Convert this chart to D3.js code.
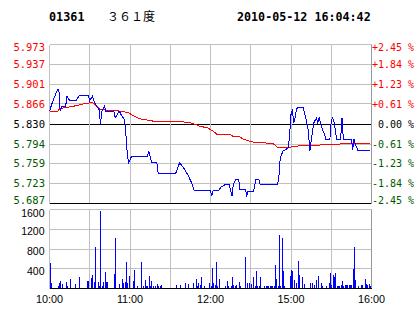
<!DOCTYPE html>
<html>
<head>
    <meta charset="utf-8">
    <title>01361 intraday</title>
    <script src="https://d3js.org/d3.v7.min.js"></script>
    <style>
        body { margin: 0; background: #fff; }
        svg { display: block; }
    </style>
</head>
<body>
<div id="chart"></div>
<script>
    // minutes after 10:00, lunch break taken out (12:30 = 14:30 = 150)
    var priceTimes = [0, 2, 6, 7, 8, 9, 12, 13, 15, 20, 22, 29, 30, 32, 33, 35, 37, 38, 39, 41,
        42, 48, 49, 52, 54, 56, 57, 58, 59, 61, 73, 74, 75, 76, 80, 81, 94, 97, 100, 103,
        106, 108, 120, 121, 122, 126, 128, 131, 134, 136, 137, 139, 141, 142, 146, 147, 148, 152, 154, 156,
        157, 170, 171, 172, 174, 176, 178, 179, 180, 181, 182, 183, 184, 185, 189, 191, 193, 194, 195, 197,
        199, 200, 201, 203, 205, 206, 209, 210, 211, 212, 214, 217, 218, 219, 225, 226, 227, 228, 230, 239];
    var priceValues = [5.853, 5.868, 5.892, 5.892, 5.853, 5.861, 5.861, 5.880, 5.872, 5.872, 5.881, 5.881, 5.872, 5.880, 5.872, 5.862, 5.856, 5.830, 5.853, 5.862,
        5.853, 5.853, 5.841, 5.853, 5.844, 5.838, 5.810, 5.775, 5.760, 5.771, 5.771, 5.782, 5.772, 5.761, 5.760, 5.741, 5.741, 5.760, 5.751, 5.739,
        5.724, 5.710, 5.710, 5.701, 5.710, 5.710, 5.717, 5.721, 5.721, 5.700, 5.721, 5.731, 5.731, 5.712, 5.712, 5.701, 5.709, 5.709, 5.731, 5.731,
        5.721, 5.721, 5.736, 5.769, 5.781, 5.784, 5.787, 5.811, 5.847, 5.856, 5.832, 5.841, 5.856, 5.860, 5.860, 5.841, 5.817, 5.781, 5.799, 5.832,
        5.841, 5.832, 5.841, 5.823, 5.811, 5.803, 5.803, 5.835, 5.841, 5.835, 5.803, 5.803, 5.841, 5.803, 5.803, 5.784, 5.803, 5.793, 5.782, 5.782];

    // average price
    var avgTimes = [0, 6, 8, 18, 25, 30, 32, 34, 38, 48, 54, 59, 63, 68, 73, 80, 99, 105, 110, 112,
        118, 122, 125, 135, 137, 142, 144, 149, 153, 161, 167, 170, 177, 183, 188, 210, 223, 239];
    var avgValues = [5.853, 5.853, 5.858, 5.862, 5.866, 5.868, 5.869, 5.865, 5.856, 5.854, 5.853, 5.850, 5.844, 5.839, 5.837, 5.834, 5.834, 5.832, 5.828, 5.826,
        5.823, 5.817, 5.811, 5.811, 5.807, 5.807, 5.803, 5.799, 5.797, 5.796, 5.794, 5.788, 5.787, 5.790, 5.791, 5.793, 5.795, 5.795];

    // volume per minute
    var volTimes = [0, 1, 6, 7, 8, 9, 12, 13, 15, 19, 22, 28, 29, 31, 32, 33, 34, 36, 37, 38,
        39, 40, 41, 42, 43, 48, 49, 52, 54, 55, 56, 57, 58, 59, 62, 63, 65, 68, 70, 71,
        72, 73, 74, 75, 76, 77, 79, 80, 81, 82, 83, 94, 97, 101, 103, 107, 109, 110, 111, 112,
        113, 115, 119, 120, 121, 122, 123, 124, 125, 126, 131, 132, 133, 135, 136, 137, 138, 139, 141, 142,
        146, 147, 149, 150, 152, 153, 154, 155, 156, 157, 160, 161, 162, 163, 164, 165, 166, 167, 168, 169,
        170, 171, 172, 173, 174, 175, 179, 180, 181, 182, 184, 185, 186, 188, 190, 194, 196, 197, 199, 200,
        202, 203, 206, 208, 209, 210, 211, 212, 213, 214, 215, 216, 217, 218, 219, 220, 221, 222, 223, 224,
        225, 226, 227, 228, 230, 232, 233, 235, 236, 237, 238, 239];
    var volValues = [520, 115, 54, 120, 150, 88, 135, 54, 190, 88, 236, 150, 150, 216, 270, 135, 845, 135, 54, 1566,
        54, 135, 338, 135, 135, 290, 1026, 88, 190, 120, 135, 540, 120, 256, 150, 370, 54, 540, 54, 170,
        54, 54, 256, 54, 150, 54, 47, 100, 47, 47, 68, 68, 68, 120, 100, 120, 190, 47, 120, 68,
        230, 47, 120, 54, 420, 120, 80, 540, 47, 200, 47, 150, 47, 47, 236, 80, 47, 80, 128, 47,
        640, 120, 120, 100, 230, 47, 350, 47, 47, 230, 47, 47, 47, 54, 54, 54, 47, 47, 486, 190,
        47, 1080, 47, 1026, 350, 47, 250, 370, 350, 170, 120, 553, 270, 230, 100, 120, 120, 80, 170, 250,
        120, 47, 47, 120, 304, 80, 270, 230, 324, 47, 47, 47, 80, 162, 47, 68, 68, 68, 68, 68,
        68, 405, 837, 170, 47, 68, 68, 190, 88, 68, 95, 54];

    var preClose = 5.830;
    var priceTicks = [5.973, 5.937, 5.901, 5.866, 5.830, 5.794, 5.759, 5.723, 5.687];
    var pctLabels = ["+2.45 %", "+1.84 %", "+1.23 %", "+0.61 %", " 0.00 %", "-0.61 %", "-1.23 %", "-1.84 %", "-2.45 %"];
    var volTicks = [400, 800, 1200, 1600];
    var gridTimes = [30, 60, 90, 120, 150, 180, 210];
    var timeTicks = [0, 60, 120, 180, 240];
    var timeLabels = ["10:00", "11:00", "12:00", "15:00", "16:00"];

    var W = 414, H = 314;
    var left = 49.5, right = 371.5;
    var priceTop = 44.5, priceBottom = 203.5;
    var volTop = 209.5, volBottom = 288.5;

    var RED = "#ff0000", GREEN = "#005a00", GRID = "#c0c0c0", MONO = "DejaVu Sans Mono";

    // snap to the middle of a pixel so 1px lines stay sharp
    function px(v) { return Math.round(v - 0.5) + 0.5; }
    function tone(v) { return v > preClose ? RED : (v < preClose ? GREEN : "#000"); }

    var svg = d3.select("#chart")
        .append("svg")
        .attr("width", W)
        .attr("height", H)
        .style("background", "#fff");

    var x = d3.scaleLinear().domain([0, 240]).range([left, right]);
    var y = d3.scaleLinear().domain([5.687, 5.973]).range([priceBottom, priceTop]);
    var yVol = d3.scaleLinear().domain([0, 1600]).range([volBottom, volTop]);

    // header
    svg.append("text").attr("x", 49).attr("y", 20.5)
        .style("font-family", MONO).style("font-weight", "bold").style("font-size", "11.8px")
        .text("01361");
    svg.append("text").attr("x", 107).attr("y", 20.5)
        .style("font-family", "Noto Sans CJK SC").style("font-size", "12px")
        .text("３６１度");
    svg.append("text").attr("x", 237).attr("y", 20.5)
        .style("font-family", MONO).style("font-weight", "bold").style("font-size", "11.7px")
        .text("2010-05-12 16:04:42");

    var grid = svg.append("g").attr("shape-rendering", "crispEdges");

    // price panel grid
    grid.selectAll(".hgrid")
        .data(priceTicks)
        .enter()
        .append("line")
        .attr("x1", left).attr("x2", right)
        .attr("y1", function(d) { return px(y(d)); })
        .attr("y2", function(d) { return px(y(d)); })
        .attr("stroke", function(d, i) { return (d == preClose || i == priceTicks.length - 1) ? "#000" : GRID; });

    grid.selectAll(".vgrid")
        .data(gridTimes)
        .enter()
        .append("line")
        .attr("x1", function(d) { return px(x(d)); })
        .attr("x2", function(d) { return px(x(d)); })
        .attr("y1", priceTop).attr("y2", priceBottom - 1)
        .attr("stroke", GRID);

    // volume panel grid
    grid.selectAll(".vhgrid")
        .data(volTicks)
        .enter()
        .append("line")
        .attr("x1", left).attr("x2", right)
        .attr("y1", function(d) { return px(yVol(d)); })
        .attr("y2", function(d) { return px(yVol(d)); })
        .attr("stroke", GRID);

    grid.selectAll(".vvgrid")
        .data(gridTimes)
        .enter()
        .append("line")
        .attr("x1", function(d) { return px(x(d)); })
        .attr("x2", function(d) { return px(x(d)); })
        .attr("y1", volTop).attr("y2", volBottom)
        .attr("stroke", GRID);

    // panel sides
    [[priceTop, priceBottom], [volTop, volBottom]].forEach(function(p) {
        grid.append("line").attr("x1", px(left)).attr("x2", px(left))
            .attr("y1", p[0]).attr("y2", p[1]).attr("stroke", GRID);
        grid.append("line").attr("x1", px(right)).attr("x2", px(right))
            .attr("y1", p[0]).attr("y2", p[1]).attr("stroke", "#999");
    });

    // volume bars
    svg.append("g")
        .attr("shape-rendering", "crispEdges")
        .selectAll("rect")
        .data(d3.zip(volTimes, volValues))
        .enter()
        .append("rect")
        .attr("x", function(d) { return Math.round(x(d[0])); })
        .attr("y", function(d) { return Math.round(yVol(d[1])); })
        .attr("width", 1)
        .attr("height", function(d) { return volBottom - 0.5 - Math.round(yVol(d[1])); })
        .attr("fill", "#0000ff");

    grid.append("line").attr("x1", left).attr("x2", right)
        .attr("y1", px(volBottom)).attr("y2", px(volBottom)).attr("stroke", "#000");

    // average and price lines
    var line = d3.line()
        .x(function(d) { return x(d[0]); })
        .y(function(d) { return y(d[1]); });

    svg.append("path")
        .datum(d3.zip(avgTimes, avgValues))
        .attr("d", line)
        .attr("fill", "none")
        .attr("stroke", RED)
        .attr("stroke-width", 1)
        .attr("shape-rendering", "crispEdges");

    svg.append("path")
        .datum(d3.zip(priceTimes, priceValues))
        .attr("d", line)
        .attr("fill", "none")
        .attr("stroke", "#0000ff")
        .attr("stroke-width", 1)
        .attr("shape-rendering", "crispEdges");

    // left price labels, kept inside the panel
    svg.selectAll(".plabel")
        .data(priceTicks)
        .enter()
        .append("text")
        .attr("x", 45)
        .attr("y", function(d) { return Math.min(Math.max(y(d), priceTop + 2.5), priceBottom - 3.5) + 3.8; })
        .attr("text-anchor", "end")
        .style("font-family", MONO).style("font-size", "10.5px")
        .attr("fill", tone)
        .text(function(d) { return d.toFixed(3); });

    // right percent labels
    svg.selectAll(".rlabel")
        .data(priceTicks)
        .enter()
        .append("text")
        .attr("x", 372)
        .attr("y", function(d) { return Math.min(Math.max(y(d), priceTop + 2.5), priceBottom - 3.5) + 3.8; })
        .style("font-family", MONO).style("font-size", "10px")
        .style("white-space", "pre")
        .attr("fill", tone)
        .text(function(d, i) { return pctLabels[i]; });

    // volume labels
    svg.selectAll(".vlabel")
        .data(volTicks)
        .enter()
        .append("text")
        .attr("x", 44.5)
        .attr("y", function(d) { return Math.max(yVol(d) + 6, volTop + 7.5); })
        .attr("text-anchor", "end")
        .style("font-family", "Liberation Sans").style("font-size", "10.5px")
        .text(function(d) { return d; });

    // time labels
    svg.selectAll(".tlabel")
        .data(timeTicks)
        .enter()
        .append("text")
        .attr("x", function(d) { return x(d); })
        .attr("y", 302.5)
        .attr("text-anchor", "middle")
        .style("font-family", "Liberation Sans").style("font-size", "10.8px")
        .text(function(d, i) { return timeLabels[i]; });
</script>
</body>
</html>
